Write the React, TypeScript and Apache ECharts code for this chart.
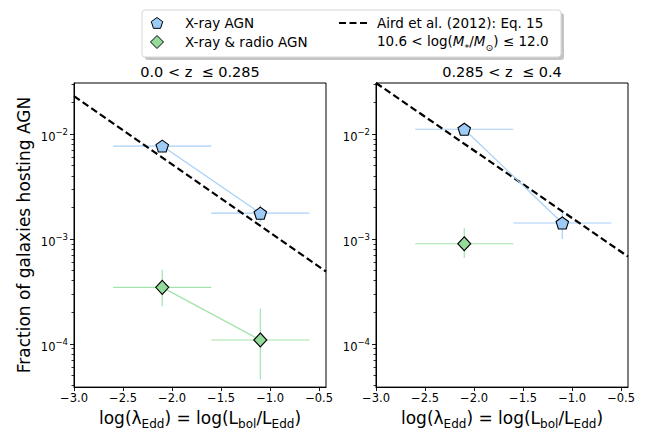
import React, { useEffect, useRef } from "react";
import * as echarts from "echarts";

// ---- data ----
const xTicks = [-3.0, -2.5, -2.0, -1.5, -1.0, -0.5];
const yMajorExps = [-4, -3, -2];
const xRange = [-3.0, -0.43];
const yRange = [3.88e-5, 3.06e-2];

// left panel: 0.0 < z <= 0.285
const leftX = [-2.1, -1.1];
const leftXErrLo = [-2.6, -1.6];
const leftXErrHi = [-1.6, -0.6];
const leftXray = [7.67e-3, 1.76e-3];
const leftXrayLo = [7.3e-3, 1.45e-3];
const leftXrayHi = [8.1e-3, 2.11e-3];
const leftRadio = [3.46e-4, 1.09e-4];
const leftRadioLo = [2.28e-4, 4.6e-5];
const leftRadioHi = [5.1e-4, 2.16e-4];
const leftAirdX = [-3.0, -0.43];
const leftAirdY = [2.29e-2, 4.9e-4];

// right panel: 0.285 < z <= 0.4
const rightX = [-2.1, -1.1];
const rightXErrLo = [-2.6, -1.6];
const rightXErrHi = [-1.6, -0.6];
const rightXray = [1.11e-2, 1.42e-3];
const rightXrayLo = [1.05e-2, 1.0e-3];
const rightXrayHi = [1.18e-2, 1.83e-3];
const rightRadioX = [-2.1];
const rightRadioXErrLo = [-2.6];
const rightRadioXErrHi = [-1.6];
const rightRadio = [9.0e-4];
const rightRadioLo = [6.6e-4];
const rightRadioHi = [1.27e-3];
const rightAirdX = [-3.0, -0.43];
const rightAirdY = [3.06e-2, 6.8e-4];

const panelTitles = ["0.0 < z  \u2264 0.285", "0.285 < z  \u2264 0.4"];

// ---- styles ----
const FONT = "DejaVu Sans";
const BLUE_FILL = "#9ccbf7";
const BLUE_LINE = "#a6d0f7";
const GREEN_FILL = "#93da9b";
const GREEN_LINE = "#a3e2aa";
const PENTAGON = "path://M0,-1L0.951,-0.309L0.588,0.809L-0.588,0.809L-0.951,-0.309Z";

const lg = (v: number) => Math.log10(v);

function minorValues(): number[] {
  const out: number[] = [];
  for (let e = -5; e <= -1; e++) {
    for (let k = 2; k <= 9; k++) {
      const v = Math.log10(k * Math.pow(10, e));
      if (v >= lg(yRange[0]) && v <= lg(yRange[1])) out.push(v);
    }
  }
  return out;
}

function errData(xs: number[], xlo: number[], xhi: number[], ys: number[], ylo: number[], yhi: number[]) {
  return xs.map((x, i) => [x, lg(ys[i]), xlo[i], xhi[i], lg(ylo[i]), lg(yhi[i])]);
}

function errSeries(data: number[][], color: string, axisIdx: number, yIdx: number) {
  return {
    type: "custom",
    xAxisIndex: axisIdx,
    yAxisIndex: yIdx,
    z: 1,
    encode: { x: 0, y: 1 },
    data,
    renderItem: (params: any, api: any) => {
      const x = api.value(0);
      const y = api.value(1);
      const pL = api.coord([api.value(2), y]);
      const pR = api.coord([api.value(3), y]);
      const pB = api.coord([x, api.value(4)]);
      const pT = api.coord([x, api.value(5)]);
      return {
        type: "group",
        children: [
          { type: "line", shape: { x1: pL[0], y1: pL[1], x2: pR[0], y2: pR[1] }, style: { stroke: color, lineWidth: 1.2 } },
          { type: "line", shape: { x1: pB[0], y1: pB[1], x2: pT[0], y2: pT[1] }, style: { stroke: color, lineWidth: 1.2 } },
        ],
      };
    },
  };
}

function pointSeries(xs: number[], ys: number[], kind: "x" | "r", axisIdx: number, yIdx: number) {
  const isX = kind === "x";
  return {
    type: "line",
    xAxisIndex: axisIdx,
    yAxisIndex: yIdx,
    z: 3,
    data: xs.map((x, i) => [x, lg(ys[i])]),
    symbol: isX ? PENTAGON : "diamond",
    symbolSize: isX ? [12.5, 12] : [13, 14],
    symbolKeepAspect: false,
    showSymbol: true,
    lineStyle: { color: isX ? BLUE_LINE : GREEN_LINE, width: 1.2 },
    itemStyle: { color: isX ? BLUE_FILL : GREEN_FILL, borderColor: "#000", borderWidth: 1.1 },
    silent: true,
  };
}

function airdSeries(xs: number[], ys: number[], axisIdx: number, yIdx: number) {
  return {
    type: "line",
    xAxisIndex: axisIdx,
    yAxisIndex: yIdx,
    z: 2,
    data: xs.map((x, i) => [x, lg(ys[i])]),
    symbol: "none",
    clip: true,
    lineStyle: { color: "#000", width: 2.2, type: [7, 3.5] },
    silent: true,
  };
}

const grids = [
  { left: 74, top: 83, width: 252, height: 310 },
  { left: 376, top: 83, width: 252, height: 310 },
];

export default function App() {
  const ref = useRef<HTMLDivElement>(null);
  useEffect(() => {
    if (!ref.current) return;
    const chart = echarts.init(ref.current, undefined, { renderer: "svg" });
    const minors = minorValues();
    const xAxes = grids.map((_, gi) => ({
      type: "value",
      gridIndex: gi,
      position: "bottom",
      min: xRange[0],
      max: xRange[1],
      interval: 0.5,
      axisLine: { show: true, onZero: false, lineStyle: { color: "#000", width: 1 } },
      axisTick: { show: true, length: 4, customValues: xTicks, lineStyle: { color: "#000", width: 0.9 } },
      axisLabel: {
        customValues: xTicks,
        margin: 5,
        fontFamily: FONT,
        fontSize: 11.5,
        color: "#000",
        formatter: (v: number) => v.toFixed(1).replace("-", "\u2212"),
      },
      splitLine: { show: false },
      name: "{m|log(\u03bb}{s|Edd}{m|) = log(L}{s|bol}{m|/L}{s|Edd}{m|)}",
      nameLocation: "middle",
      nameGap: 19,
      nameTextStyle: {
        fontFamily: FONT,
        color: "#000",
        verticalAlign: "top",
        rich: {
          m: { fontFamily: FONT, fontSize: 17, lineHeight: 20, color: "#000", verticalAlign: "top" },
          s: { fontFamily: FONT, fontSize: 12, lineHeight: 12, padding: [9, 0, 0, 0], color: "#000", verticalAlign: "top" },
        },
      },
    }));
    const yAxes: any[] = [];
    grids.forEach((g, gi) => {
      yAxes.push({
        type: "value",
        gridIndex: gi,
        position: "left",
        min: lg(yRange[0]),
        max: lg(yRange[1]),
        axisLine: { show: true, onZero: false, lineStyle: { color: "#000", width: 1 } },
        axisTick: { show: true, length: 4, customValues: yMajorExps, lineStyle: { color: "#000", width: 0.9 } },
        axisLabel: {
          customValues: yMajorExps,
          margin: 6,
          formatter: (v: number) => `{b|10}{s|\u2212${Math.abs(Math.round(v))}}`,
          rich: {
            b: { fontFamily: FONT, fontSize: 11.5, lineHeight: 13, padding: [4, 0, 0, 0], color: "#000", verticalAlign: "top" },
            s: { fontFamily: FONT, fontSize: 8.5, lineHeight: 9, color: "#000", verticalAlign: "top" },
          },
        },
        splitLine: { show: false },
        name: gi === 0 ? "Fraction of galaxies hosting AGN" : "",
        nameLocation: "middle",
        nameGap: 42,
        nameTextStyle: { fontFamily: FONT, fontSize: 17, color: "#000" },
      });
      // minor log ticks: a right-side axis shifted onto the left edge, ticks pointing outwards
      yAxes.push({
        type: "value",
        gridIndex: gi,
        position: "right",
        offset: -g.width,
        min: lg(yRange[0]),
        max: lg(yRange[1]),
        axisLine: { show: false, onZero: false },
        axisTick: { show: true, inside: true, length: 2.5, customValues: minors, lineStyle: { color: "#000", width: 0.8 } },
        axisLabel: { show: false },
        splitLine: { show: false },
      });
    });

    const series: any[] = [
      errSeries(errData(leftX, leftXErrLo, leftXErrHi, leftXray, leftXrayLo, leftXrayHi), BLUE_LINE, 0, 0),
      errSeries(errData(leftX, leftXErrLo, leftXErrHi, leftRadio, leftRadioLo, leftRadioHi), GREEN_LINE, 0, 0),
      airdSeries(leftAirdX, leftAirdY, 0, 0),
      pointSeries(leftX, leftXray, "x", 0, 0),
      pointSeries(leftX, leftRadio, "r", 0, 0),
      errSeries(errData(rightX, rightXErrLo, rightXErrHi, rightXray, rightXrayLo, rightXrayHi), BLUE_LINE, 1, 2),
      errSeries(errData(rightRadioX, rightRadioXErrLo, rightRadioXErrHi, rightRadio, rightRadioLo, rightRadioHi), GREEN_LINE, 1, 2),
      airdSeries(rightAirdX, rightAirdY, 1, 2),
      pointSeries(rightX, rightXray, "x", 1, 2),
      pointSeries(rightRadioX, rightRadio, "r", 1, 2),
    ];

    const pent = (cx: number, cy: number, r: number) =>
      [0, 1, 2, 3, 4].map((k) => {
        const a = -Math.PI / 2 + (k * 2 * Math.PI) / 5;
        return [cx + r * Math.cos(a), cy + r * Math.sin(a)];
      });

    const legendText = { fontFamily: FONT, fontSize: 13.5, fill: "#000" };

    chart.setOption({
      animation: false,
      grid: grids.map((g) => ({ ...g, show: true, borderColor: "#000", borderWidth: 1, backgroundColor: "transparent" })),
      xAxis: xAxes,
      yAxis: yAxes,
      series,
      graphic: [
        { type: "text", x: 200, y: 72, style: { text: panelTitles[0], fontFamily: FONT, fontSize: 14.5, fill: "#000", align: "center", verticalAlign: "middle" } },
        { type: "text", x: 502, y: 72, style: { text: panelTitles[1], fontFamily: FONT, fontSize: 14.5, fill: "#000", align: "center", verticalAlign: "middle" } },
        { type: "rect", shape: { x: 145, y: 13, width: 419, height: 47, r: 3 }, style: { fill: "#c4c4c4", stroke: "none" } },
        { type: "rect", shape: { x: 142, y: 10, width: 419, height: 47, r: 3 }, style: { fill: "#fff", stroke: "#d6d6d6", lineWidth: 1 } },
        { type: "polygon", shape: { points: pent(157, 23.5, 6) }, style: { fill: BLUE_FILL, stroke: "#000", lineWidth: 1 } },
        { type: "polygon", shape: { points: [[157, 35.5], [163.5, 42], [157, 48.5], [150.5, 42]] }, style: { fill: GREEN_FILL, stroke: "#000", lineWidth: 1 } },
        { type: "text", x: 185, y: 23, style: { ...legendText, text: "X-ray AGN", verticalAlign: "middle" } },
        { type: "text", x: 185, y: 42, style: { ...legendText, text: "X-ray & radio AGN", verticalAlign: "middle" } },
        { type: "line", shape: { x1: 339, y1: 23, x2: 367, y2: 23 }, style: { stroke: "#000", lineWidth: 2.2, lineDash: [7, 3.5] } },
        { type: "text", x: 377, y: 23, style: { ...legendText, text: "Aird et al. (2012): Eq. 15", verticalAlign: "middle" } },
        {
          type: "text",
          x: 377,
          y: 42,
          style: {
            text: "{n|10.6 < log(}{i|M}{s|*}{n|/}{i|M}{s|\u2299}{n|) \u2264 12.0}",
            verticalAlign: "middle",
            rich: {
              n: { fontFamily: FONT, fontSize: 13.5, lineHeight: 16, fill: "#000", verticalAlign: "top" },
              i: { fontFamily: FONT, fontSize: 13.5, lineHeight: 16, fontStyle: "italic", fill: "#000", verticalAlign: "top" },
              s: { fontFamily: FONT, fontSize: 9.5, lineHeight: 10, padding: [8, 0, 0, 0], fill: "#000", verticalAlign: "top" },
            },
          },
        },
      ],
    });
    return () => chart.dispose();
  }, []);
  return <div ref={ref} style={{ position: "absolute", left: 0, top: 0, width: 646, height: 435 }} />;
}
